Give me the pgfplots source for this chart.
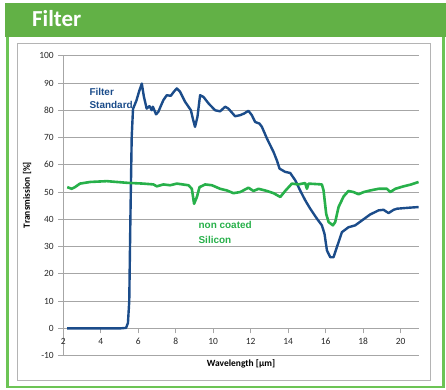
\documentclass[border=0pt]{standalone}
\usepackage{pgfplots}
\pgfplotsset{compat=1.18}
\usepackage{fontspec}
\setmainfont{Carlito}
\newfontfamily\arialfont{Liberation Sans}
\definecolor{hdrgreen}{HTML}{62B146}
\definecolor{brdgreen}{HTML}{6CC455}
\definecolor{fblue}{HTML}{1B4C8A}
\definecolor{sgreen}{HTML}{27B04A}
\definecolor{gridgray}{HTML}{A6A6A6}
\definecolor{boxgray}{HTML}{B4B4B4}
\begin{document}
\begin{tikzpicture}[x=1bp,y=1bp]
\path[use as bounding box] (0,0) rectangle (446,389);
\fill[hdrgreen] (5,352.3) rectangle (446,385.7);
\draw[brdgreen, line width=2.5bp] (7.5,352.3) -- (7.5,2.2) -- (443.5,2.2) -- (443.5,352.3);
\draw[boxgray, line width=0.8bp] (17.3,9) rectangle (430,345.7);
\node[anchor=base west, text=white, font=\fontsize{23}{27}\selectfont\bfseries, inner sep=0pt] at (32,362.3) {Filter};
\begin{axis}[
  at={(63.3bp,33.3bp)}, anchor=south west,
  width=356bp, height=300bp, scale only axis,
  xmin=2, xmax=21, ymin=-10, ymax=100,
  axis x line*=middle, axis y line*=left,
  hide obscured x ticks=false, hide obscured y ticks=false,
  xtick={2,4,...,20}, ytick={-10,0,...,100},
  tick align=outside, major tick length=5bp,
  tick style={gridgray, line width=0.8bp},
  axis line style={gridgray, line width=0.8bp},
  ymajorgrids, grid style={gridgray, line width=0.8bp},
  ticklabel style={font=\fontsize{9.5}{11}\selectfont, text=black!85},
  /pgf/number format/assume math mode=true,
  xticklabel style={yshift=-1bp},
  yticklabel style={xshift=-1bp},
  clip=false,
]
\addplot[fblue, line width=2.4bp, line join=round] coordinates {
(2.2,0) (3,0) (4,0) (5,0) (5.35,0.2) (5.45,2) (5.52,10) (5.58,40) (5.65,70) (5.72,80.5) (5.9,83.5) (6.05,87) (6.19,89.8) (6.3,85) (6.45,80.6) (6.6,81.5) (6.72,80) (6.78,81.3) (6.95,78.5) (7.07,79.4) (7.2,81.5) (7.34,83.7) (7.52,85.5) (7.74,85.3) (7.9,86.8) (8.06,88.0) (8.23,86.8) (8.5,83.1) (8.68,81.3) (8.81,80.0) (8.91,77.0) (9.03,73.9) (9.16,77.6) (9.3,85.5) (9.48,84.9) (9.75,82.5) (10.1,80.0) (10.37,79.6) (10.64,81.3) (10.81,80.6) (11.17,77.8) (11.44,78.2) (11.65,78.8) (11.88,79.8) (12.06,78.2) (12.24,75.7) (12.47,75.1) (12.6,73.9) (12.87,69.6) (13.22,64.7) (13.40,61.6) (13.54,58.6) (13.84,57.4) (14.11,57.0) (14.38,54.3) (14.64,50.6) (14.91,47.0) (15.18,43.9) (15.54,40.2) (15.80,37.8) (15.94,34.7) (16.07,28.6) (16.25,26.1) (16.42,26.1) (16.60,29.8) (16.87,35.3) (17.22,37.1) (17.58,37.8) (17.94,39.6) (18.38,41.8) (18.83,43.3) (19.09,43.5) (19.36,42.3) (19.63,43.5) (19.81,43.9) (20.16,44.1) (20.52,44.3) (20.96,44.5)
};
\addplot[sgreen, line width=2.6bp, line join=round] coordinates {
(2.21,51.8) (2.45,51.2) (2.62,51.8) (2.89,53.1) (3.43,53.7) (4.32,54.0) (5.39,53.4) (6.27,53.1) (6.81,52.8) (6.99,52.1) (7.34,52.8) (7.70,52.5) (8.06,53.1) (8.68,52.5) (8.86,51.2) (8.98,45.7) (9.13,48.2) (9.27,51.8) (9.57,52.8) (9.93,52.5) (10.37,51.2) (10.73,50.6) (11.08,49.6) (11.44,50.0) (11.88,51.6) (12.15,50.4) (12.42,51.2) (12.87,50.4) (13.22,49.6) (13.58,48.2) (13.84,50.4) (14.20,53.1) (14.55,52.8) (14.91,53.3) (15.0,51.2) (15.09,53.1) (15.80,52.8) (15.89,50.6) (16.03,42.0) (16.16,39.0) (16.39,37.8) (16.51,39.0) (16.69,44.5) (16.96,48.4) (17.22,50.4) (17.49,50.0) (17.76,49.2) (18.03,50.0) (18.38,50.6) (18.83,51.2) (19.27,51.2) (19.45,50.0) (19.72,51.2) (20.16,52.1) (20.52,52.7) (20.96,53.7)
};
\node[anchor=base west, inner sep=0pt, text=fblue, font=\arialfont\fontsize{10}{12}\selectfont\bfseries] at (axis cs:3.39,85.55) {Filter};
\node[anchor=base west, inner sep=0pt, text=fblue, font=\arialfont\fontsize{10}{12}\selectfont\bfseries] at (axis cs:3.39,80.8) {Standard};
\node[anchor=base west, inner sep=0pt, text=sgreen, font=\arialfont\fontsize{10}{12}\selectfont\bfseries] at (axis cs:9.21,36.65) {non coated};
\node[anchor=base west, inner sep=0pt, text=sgreen, font=\arialfont\fontsize{10}{12}\selectfont\bfseries] at (axis cs:9.21,31.3) {Silicon};
\end{axis}
\node[font=\fontsize{9.5}{11}\selectfont\bfseries] at (241,25) {Wavelength [µm]};
\node[rotate=90, font=\fontsize{9.5}{11}\selectfont\bfseries] at (27,194) {Transmission [\%]};
\end{tikzpicture}
\end{document}
